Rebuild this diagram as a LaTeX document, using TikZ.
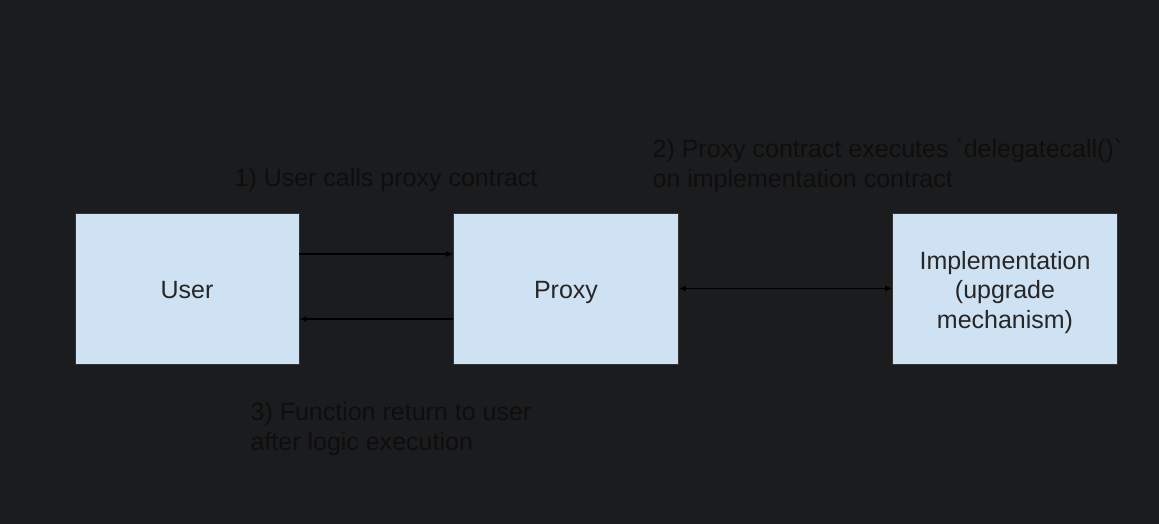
\documentclass[tikz,border=0pt]{standalone}
\usepackage{fontspec}
\setmainfont{Liberation Sans}
\usetikzlibrary{arrows.meta}
\definecolor{fondo}{HTML}{1B1C1E}
\definecolor{azulcaja}{HTML}{CFE2F3}
\definecolor{textoosc}{HTML}{0E0E0E}

\begin{document}
\begin{tikzpicture}[x=1pt,y=-1pt,line width=1.2pt,>={Latex[length=7pt,width=6pt]},
  caja/.style={draw=black!80,line width=0.8pt,fill=azulcaja,minimum width=225pt,minimum height=151pt,
    inner sep=0pt,align=center,font=\fontsize{25}{29.5}\selectfont,text=black!85,
    text height=25pt,text depth=6pt},
  etiqueta/.style={anchor=base west,inner sep=0pt,align=left,font=\fontsize{25}{30}\selectfont,text=textoosc}]
  \fill[fondo] (0,0) rectangle (1159,524);
  % cajas
  \node[caja,minimum width=224pt] (user) at (187,288.5) {User};
  \node[caja] (proxy) at (566,288.5) {Proxy};
  \node[caja,text height=84pt,text depth=5pt] (impl) at (1005,288.5) {Implementation\\(upgrade\\mechanism)};
  % flechas
  \draw[->] ([yshift=34.5pt]user.east) -- ([yshift=34.5pt]proxy.west);
  \draw[->] ([yshift=-30.5pt]proxy.west) -- ([yshift=-30.5pt]user.east);
  \draw[<->] (proxy.east) -- (impl.west);
  % textos (base = ultima linea)
  \node[etiqueta] (paso1) at (234,186) {1) User calls proxy contract};
  \node[etiqueta] (paso2) at (652,187) {2) Proxy contract executes \textasciigrave delegatecall()\textasciigrave\\on implementation contract};
  \node[etiqueta] (paso3) at (250,450) {3) Function return to user\\after logic execution};
\end{tikzpicture}
\end{document}
